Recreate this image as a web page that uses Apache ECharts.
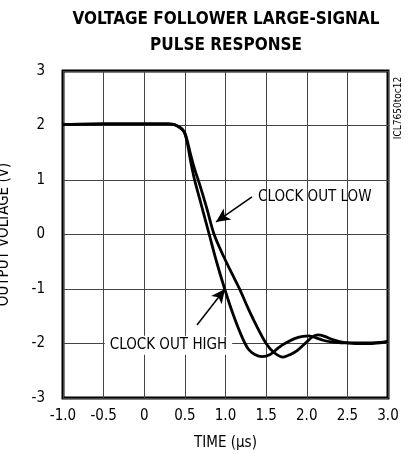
<html>
<head>
<meta charset="utf-8">
<title>Voltage Follower Large-Signal Pulse Response</title>
<script src="https://cdn.jsdelivr.net/npm/echarts@6/dist/echarts.min.js"></script>
<style>
  html, body { margin: 0; padding: 0; background: #fff; }
</style>
</head>
<body>
<div id="main" style="width: 410px;height:454px;"></div>
<script type="text/javascript">
// values: [time (us), output voltage (V)]
var clockOutHigh = [
    [-1.0, 2.02], [-0.5, 2.03], [0.0, 2.03], [0.3, 2.03], [0.36, 2.02], [0.42, 1.98],
    [0.47, 1.92], [0.5, 1.85], [0.53, 1.68], [0.57, 1.35], [0.62, 1.0], [0.71, 0.5],
    [0.80, 0.0], [0.89, -0.5], [0.99, -1.0], [1.09, -1.45], [1.2, -1.87], [1.28, -2.1],
    [1.36, -2.2], [1.45, -2.24], [1.55, -2.2], [1.65, -2.08], [1.73, -2.0], [1.85, -1.91],
    [1.95, -1.87], [2.03, -1.86], [2.12, -1.9], [2.2, -1.94], [2.3, -1.97], [2.45, -1.99],
    [2.7, -1.99], [2.9, -1.98], [3.0, -1.96]
];
var clockOutLow = [
    [-1.0, 2.02], [-0.5, 2.03], [0.0, 2.03], [0.3, 2.03], [0.36, 2.02], [0.42, 1.98],
    [0.47, 1.93], [0.5, 1.86], [0.53, 1.72], [0.57, 1.47], [0.62, 1.2], [0.68, 0.93],
    [0.77, 0.48], [0.86, 0.0], [0.97, -0.38], [1.08, -0.72], [1.18, -1.02], [1.28, -1.36],
    [1.39, -1.7], [1.5, -2.0], [1.6, -2.17], [1.71, -2.25], [1.8, -2.2], [1.89, -2.12],
    [1.98, -2.0], [2.07, -1.88], [2.14, -1.84], [2.22, -1.87], [2.32, -1.93], [2.45, -1.98],
    [2.6, -2.0], [2.8, -2.0], [2.95, -1.98], [3.0, -1.96]
];
var xTicks = { min: -1, max: 3, step: 0.5 };
var yTicks = { min: -3, max: 3, step: 1 };

var font = "'Liberation Sans Narrow', 'DejaVu Sans Condensed', sans-serif";
var myChart = echarts.init(document.getElementById('main'));

var option = {
    animation: false,
    title: {
        text: 'VOLTAGE FOLLOWER LARGE-SIGNAL\nPULSE RESPONSE',
        left: 226, top: 7, padding: 0,
        textAlign: 'center',
        textStyle: { fontFamily: font, fontWeight: 'bold', fontSize: 17, lineHeight: 26, color: '#000' }
    },
    grid: {
        left: 63, right: 22, top: 71, bottom: 56,
        outerBoundsMode: 'none', containLabel: false,
        show: true, borderColor: '#000', borderWidth: 3
    },
    xAxis: {
        type: 'value', min: xTicks.min, max: xTicks.max, interval: xTicks.step,
        name: 'TIME (\u03BCs)', nameLocation: 'middle', nameGap: 38,
        nameTextStyle: { fontFamily: font, fontSize: 15, color: '#000' },
        axisLine: { show: false }, axisTick: { show: false },
        axisLabel: {
            fontFamily: font, fontSize: 15, color: '#000', margin: 11,
            formatter: function (v) { return v === 0 ? '0' : v.toFixed(1); }
        },
        splitLine: { show: true, lineStyle: { color: '#444', width: 1 } }
    },
    yAxis: {
        type: 'value', min: yTicks.min, max: yTicks.max, interval: yTicks.step,
        name: 'OUTPUT VOLTAGE (V)', nameLocation: 'middle', nameGap: 51,
        nameTextStyle: { fontFamily: font, fontSize: 15, color: '#000' },
        axisLine: { show: false }, axisTick: { show: false },
        axisLabel: { fontFamily: font, fontSize: 15, color: '#000', margin: 18 },
        splitLine: { show: true, lineStyle: { color: '#444', width: 1 } }
    },
    graphic: [{
        type: 'text', x: 398, y: 108, rotation: Math.PI / 2,
        style: { text: 'ICL7650toc12', fontFamily: font, fontSize: 10, fill: '#000', align: 'center', verticalAlign: 'middle' }
    }],
    series: [{
        name: 'CLOCK OUT HIGH', type: 'line', data: clockOutHigh,
        smooth: 0.3, symbol: 'none',
        lineStyle: { color: '#000', width: 2.8 },
        markLine: {
            silent: true, symbol: ['none', 'arrow'], symbolSize: [10, 14],
            lineStyle: { color: '#000', width: 1.5, type: 'solid' },
            label: { show: false },
            data: [
                [{ coord: [1.326, 0.69] }, { coord: [0.883, 0.23] }],
                [{ coord: [0.649, -1.66] }, { coord: [0.994, -1.0] }]
            ]
        },
        markPoint: {
            silent: true, symbol: 'circle', symbolSize: 0,
            label: { show: true, position: 'inside', fontFamily: font, fontSize: 15, color: '#000' },
            data: [
                { coord: [1.40, 0.69], value: 'CLOCK OUT LOW', label: { align: 'left', verticalAlign: 'middle', formatter: 'CLOCK OUT LOW' } },
                { coord: [0.298, -2.03], value: 'CLOCK OUT HIGH', label: { align: 'center', verticalAlign: 'middle', backgroundColor: '#fff', padding: [2, 5], formatter: 'CLOCK OUT HIGH' } }
            ]
        }
    }, {
        name: 'CLOCK OUT LOW', type: 'line', data: clockOutLow,
        smooth: 0.3, symbol: 'none',
        lineStyle: { color: '#000', width: 2.8 }
    }]
};
myChart.setOption(option);
</script>
</body>
</html>
